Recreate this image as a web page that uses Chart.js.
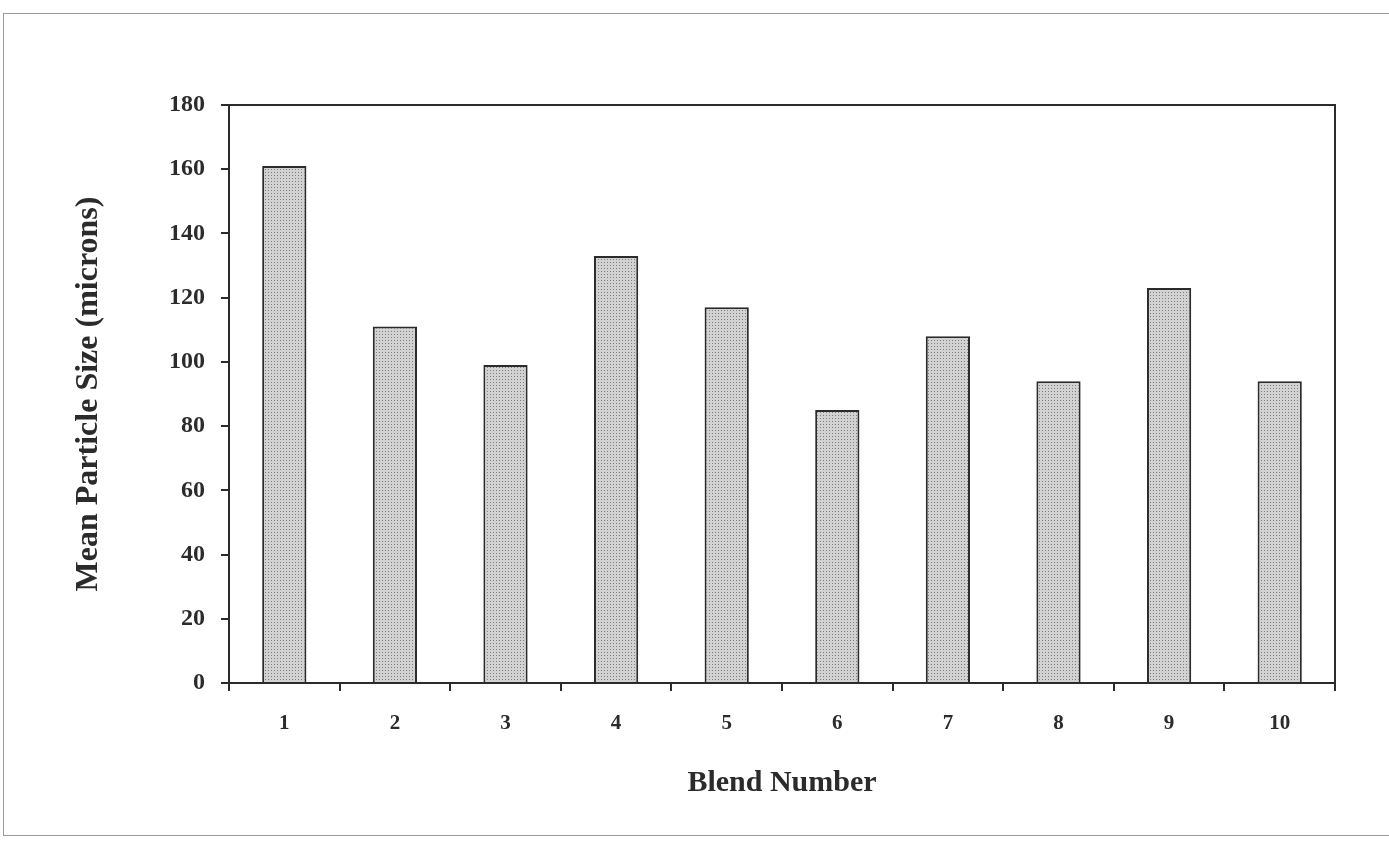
<!DOCTYPE html>
<html>
<head>
<meta charset="utf-8">
<script src="https://cdn.jsdelivr.net/npm/chart.js@4/dist/chart.umd.min.js"></script>
<style>
  html, body { margin: 0; padding: 0; background: #fff; }
  #wrap { width: 1389px; height: 841px; }
</style>
</head>
<body>
<div id="wrap"><canvas id="chart" width="1389" height="841"></canvas></div>
<script>
// data
const blends = ['1', '2', '3', '4', '5', '6', '7', '8', '9', '10'];
const meanSize = [161, 111, 99, 133, 117, 85, 108, 94, 123, 94];
const yTicks = [0, 20, 40, 60, 80, 100, 120, 140, 160, 180];

// dotted grey fill like the old print
function dotPattern() {
  var c = document.createElement('canvas');
  c.width = 3; c.height = 3;
  var g = c.getContext('2d');
  g.fillStyle = '#d2d2d2';
  g.fillRect(0, 0, 3, 3);
  g.fillStyle = '#7e7e7e';
  g.fillRect(1, 1, 1, 1);
  return g.createPattern(c, 'repeat');
}

const ink = '#2b2b2b';
const serif = '"Liberation Serif", "Times New Roman", serif';

// frame round the whole figure + box round the plot area
const framePlugin = {
  id: 'frames',
  beforeDraw(chart) {
    var ctx = chart.ctx;
    ctx.save();
    ctx.fillStyle = '#fff';
    ctx.fillRect(0, 0, chart.width, chart.height);
    ctx.strokeStyle = '#9a9a9a';
    ctx.lineWidth = 1;
    ctx.strokeRect(3.5, 13.5, chart.width + 10, 822);
    ctx.restore();
  },
  afterDraw(chart) {
    var a = chart.chartArea, ctx = chart.ctx;
    ctx.save();
    ctx.strokeStyle = ink;
    ctx.lineWidth = 2;
    ctx.strokeRect(a.left, a.top, a.right - a.left, a.bottom - a.top);
    ctx.restore();
  }
};

new Chart(document.getElementById('chart'), {
  type: 'bar',
  data: {
    labels: blends,
    datasets: [{
      data: meanSize,
      backgroundColor: dotPattern(),
      borderColor: ink,
      borderWidth: 2,
      barPercentage: 0.4,
      categoryPercentage: 1.0
    }]
  },
  options: {
    responsive: false,
    animation: false,
    layout: { padding: { left: 66, top: 105, right: 54, bottom: 40 } },
    plugins: { legend: { display: false }, tooltip: { enabled: false } },
    scales: {
      x: {
        grid: { display: true, drawOnChartArea: false, drawTicks: true, tickLength: 8, color: ink, lineWidth: 2, offset: true },
        border: { display: true, color: ink, width: 2 },
        ticks: { color: ink, padding: 20, font: { family: serif, size: 21, weight: 'bold' } },
        title: { display: true, text: 'Blend Number', color: ink, padding: 0, font: { family: serif, size: 30, weight: 'bold' } },
        afterFit(s) { s.height = 118; }
      },
      y: {
        min: 0, max: 180,
        afterBuildTicks(s) { s.ticks = yTicks.map(v => ({ value: v })); },
        grid: { display: true, drawOnChartArea: false, drawTicks: true, tickLength: 8, color: ink, lineWidth: 2 },
        border: { display: true, color: ink, width: 2 },
        ticks: { color: ink, padding: 16, font: { family: serif, size: 24, weight: 'bold' } },
        title: { display: true, text: 'Mean Particle Size (microns)', color: ink, padding: 4, font: { family: serif, size: 32, weight: 'bold' } },
        afterFit(s) { s.width = 163; }
      }
    }
  },
  plugins: [framePlugin]
});
</script>
</body>
</html>
